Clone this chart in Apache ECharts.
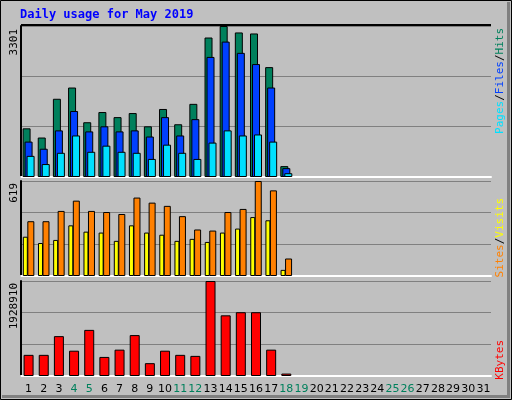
<!DOCTYPE html>
<html><head><meta charset="utf-8">
<script src="https://cdn.jsdelivr.net/npm/echarts@6/dist/echarts.min.js"></script>
<style>html,body{margin:0;padding:0;background:#c0c0c0}#c{width:512px;height:400px}</style>
</head><body><div id="c"></div>
<script>
var days = [];
for (var d = 1; d <= 31; d++) days.push(String(d));
var weekendDays = ['4','5','11','12','18','19','25','26'];
var hits  = [1064,863,1710,1956,1197,1420,1309,1398,1108,1487,1153,1599,3049,3301,3160,3138,2402,238];
var files = [774,618,1019,1443,997,1108,997,1019,885,1309,908,1265,2625,2960,2714,2469,1956,194];
var pages = [462,283,529,908,551,685,551,529,395,707,529,395,752,1019,908,930,774,83];
var visits= [256,215,235,330,289,283,229,330,283,269,229,242,222,283,309,384,363,40];
var sites = [357,357,424,491,424,417,404,511,478,457,390,303,296,417,437,619,558,114];
var kbytes= [429434,429434,809578,513906,936293,387196,535026,830698,260470,513906,429434,408316,1928910,1231967,1295325,1295325,535026,49278];
var maxLabels = ['3301','619','1928910'];
var maxValues = [3301, 619, 1928910];
var titleText = 'Daily usage for May 2019';

var mono = 'DejaVu Sans Mono';
var chart = echarts.init(document.getElementById('c'));
var grids = [
  {left:21, right:21, top:26, height:151},
  {left:21, right:21, top:181, height:95},
  {left:21, right:21, top:281, height:95}
];
function xa(i, show){
  return {type:'category', gridIndex:i, data:days, boundaryGap:true,
    axisLine:{show:true, lineStyle:{color:'#ffffff', width:2}}, axisTick:{show:false},
    axisLabel:{show:show, interval:0, margin:8, fontFamily:'DejaVu Sans', fontSize:11, color:'#000',
      formatter:function(v){return weekendDays.indexOf(v)>=0 ? '{w|'+v+'}' : v;},
      rich:{w:{color:'#00805c', fontFamily:'DejaVu Sans', fontSize:11}}}};
}
function ya(i){
  return {type:'value', gridIndex:i, min:0, max:maxValues[i], interval:maxValues[i]/3,
    axisLine:{show:true, lineStyle:{color:'#000', width:2}}, axisTick:{show:false}, axisLabel:{show:false},
    splitLine:{show:true, lineStyle:{color:'#808080', width:1}}};
}
function bar(name, data, color, xi, w, gap){
  return {name:name, type:'bar', xAxisIndex:xi, yAxisIndex:xi, data:data, barWidth:w, barGap:gap,
    itemStyle:{color:color, borderColor:'#000', borderWidth:1}, animation:false, silent:true};
}
var f11 = '11px ' + mono;
chart.setOption({
  backgroundColor:'#c0c0c0',
  animation:false,
  grid:grids,
  xAxis:[xa(0,false), xa(1,false), xa(2,true)],
  yAxis:[ya(0), ya(1), ya(2)],
  series:[
    bar('Hits', hits, '#00805c', 0, 8, '-75%'),
    bar('Files', files, '#0040ff', 0, 8, '-75%'),
    bar('Pages', pages, '#00e0ff', 0, 8, '-75%'),
    bar('Visits', visits, '#ffff00', 1, 5, '-10%'),
    bar('Sites', sites, '#ff8000', 1, 7, '-10%'),
    bar('KBytes', kbytes, '#ff0000', 2, 10, '0%')
  ],
  graphic:[
    {type:'rect', shape:{x:0.5,y:0.5,width:511,height:399}, style:{fill:null, stroke:'#000', lineWidth:1}, z:-1},
    {type:'rect', shape:{x:2,y:395,width:508,height:3}, style:{fill:'#808080'}, z:-1},
    {type:'rect', shape:{x:507,y:2,width:3,height:396}, style:{fill:'#808080'}, z:-1},
    {type:'line', shape:{x1:21,y1:25,x2:491,y2:25}, style:{stroke:'#000', lineWidth:2}, z:10},
    {type:'text', x:20, y:9, style:{text:titleText, fill:'#0000ff', font:'bold 12px '+mono}},
    {type:'text', x:14, y:29, rotation:Math.PI/2, style:{text:maxLabels[0], fill:'#000', font:f11, textAlign:'right', textVerticalAlign:'middle'}},
    {type:'text', x:14, y:183, rotation:Math.PI/2, style:{text:maxLabels[1], fill:'#000', font:f11, textAlign:'right', textVerticalAlign:'middle'}},
    {type:'text', x:14, y:283, rotation:Math.PI/2, style:{text:maxLabels[2], fill:'#000', font:f11, textAlign:'right', textVerticalAlign:'middle'}},
    {type:'text', x:500, y:28, rotation:Math.PI/2, style:{text:'{p|Pages}{s|/}{f|Files}{s|/}{h|Hits}', textAlign:'right', textVerticalAlign:'middle', font:f11,
      rich:{p:{fill:'#00e0ff',font:f11},f:{fill:'#0040ff',font:f11},h:{fill:'#00805c',font:f11},s:{fill:'#000',font:f11}}}},
    {type:'text', x:500, y:198, rotation:Math.PI/2, style:{text:'{a|Sites}{s|/}{b|Visits}', textAlign:'right', textVerticalAlign:'middle', font:f11,
      rich:{a:{fill:'#ff8000',font:f11},b:{fill:'#ffff00',font:f11},s:{fill:'#000',font:f11}}}},
    {type:'text', x:500, y:340, rotation:Math.PI/2, style:{text:'KBytes', fill:'#ff0000', textAlign:'right', textVerticalAlign:'middle', font:f11}}
  ]
});
</script></body></html>
